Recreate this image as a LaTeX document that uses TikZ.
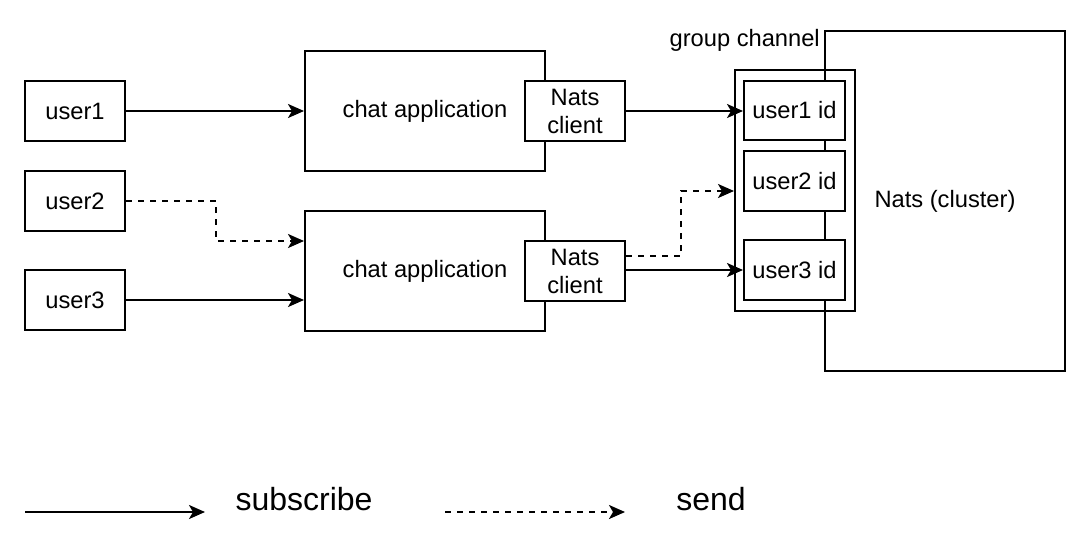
\documentclass[tikz,border=0pt]{standalone}
\usepackage{fontspec}
\setmainfont{Liberation Sans}
\usetikzlibrary{arrows.meta,calc}
\tikzset{
  box/.style={draw,line width=2pt,fill=white,inner sep=0pt,font=\fontsize{23.7}{28}\selectfont,align=center},
  arr/.style={line width=2pt,-{Stealth[length=16pt,width=14pt,inset=4pt]}},
  dsh/.style={dash pattern=on 6pt off 6pt},
  lbl/.style={font=\fontsize{23.7}{28}\selectfont,inner sep=1pt},
  leg/.style={font=\fontsize{32}{38}\selectfont,inner sep=0pt}
}
\begin{document}
\begin{tikzpicture}[x=1pt,y=-1pt]
\useasboundingbox (0,0) rectangle (1076,542);
% cluster
\node[box,minimum width=240pt,minimum height=340pt] (nats) at (945,201) {Nats (cluster)};
\node[draw,line width=2pt,minimum width=120pt,minimum height=241pt,inner sep=0pt] (gc) at (795,190.5) {};
\node[lbl,fill=white,anchor=east] (gcl) at (821,40) {group channel};
\node[box,minimum width=101pt,minimum height=59pt] (uid1) at (794.5,110.5) {user1 id};
\node[box,minimum width=101pt,minimum height=60pt] (uid2) at (794.5,181) {user2 id};
\node[box,minimum width=101pt,minimum height=60pt] (uid3) at (794.5,270) {user3 id};
% users
\node[box,minimum width=100pt,minimum height=60pt] (u1) at (75,111) {user1};
\node[box,minimum width=100pt,minimum height=60pt] (u2) at (75,201) {user2};
\node[box,minimum width=100pt,minimum height=60pt] (u3) at (75,300) {user3};
% chat apps
\node[box,minimum width=240pt,minimum height=120pt] (ca1) at (425,111) {chat application};
\node[box,minimum width=240pt,minimum height=120pt] (ca2) at (425,271) {chat application};
\node[box,minimum width=100pt,minimum height=60pt] (nc1) at (575,111) {Nats\\client};
\node[box,minimum width=100pt,minimum height=60pt] (nc2) at (575,271) {Nats\\client};
% connectors
\draw[arr] (u1.east) -- (u1.east -| ca1.west);
\draw[arr,dsh] (u2.east) -- ++(90,0) |- ([yshift=30pt]ca2.west);
\draw[arr] (u3.east) -- (u3.east -| ca2.west);
\draw[arr] (nc1.east) -- (nc1.east -| uid1.west);
\draw[arr,dsh] ([yshift=15pt]nc2.east) -- ++(55,0) |- ([yshift=-10pt]gc.west |- uid2);
\draw[arr] ([yshift=1pt]nc2.east) -- ([yshift=1pt]nc2.east -| uid3.west);
% legend
\coordinate (l1a) at (25,512);
\coordinate (l1b) at (205,512);
\coordinate (l2a) at (445,512);
\coordinate (l2b) at (625,512);
\draw[arr] (l1a) -- (l1b);
\draw[arr,dsh] (l2a) -- (l2b);
\node[leg] (t1) at (304,499) {subscribe};
\node[leg] (t2) at (711,499) {send};
\end{tikzpicture}
\end{document}
